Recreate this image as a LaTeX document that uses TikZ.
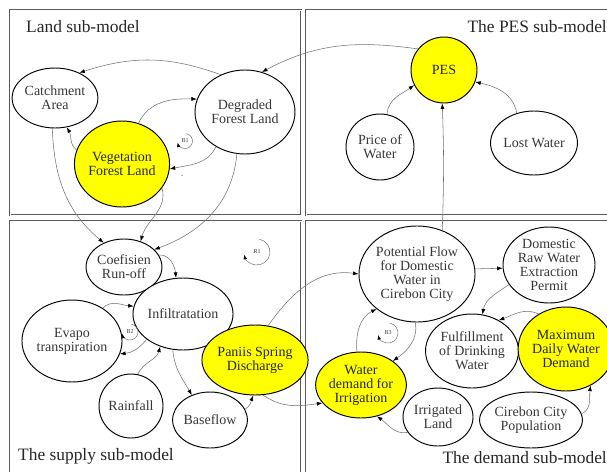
\documentclass[tikz,border=0pt]{standalone}
\usepackage{fontspec}
\setmainfont{Liberation Serif}
\usetikzlibrary{shapes.geometric,arrows.meta}

\definecolor{hilite}{RGB}{255,255,0}
\definecolor{txtgray}{RGB}{55,55,55}
\definecolor{framegray}{RGB}{90,90,90}

\tikzset{
  panel/.style={draw=framegray, line width=0.55pt, double=white, double distance=0.7pt},
  var/.style={ellipse, draw=black, line width=0.95pt, fill=white, inner sep=0pt,
              align=center, text=txtgray, font=\fontsize{14}{14}\selectfont},
  keyvar/.style={var, fill=hilite, text=black!85},
  conn/.style={draw=black!55, line width=0.55pt,
               -{Latex[length=5.5pt,width=4pt,color=black]}},
  looparc/.style={draw=black!55, line width=0.5pt,
               -{Latex[length=4.5pt,width=3.5pt,color=black]}},
  looplabel/.style={font=\fontsize{6}{6}\selectfont, text=txtgray, inner sep=0pt},
  paneltitle/.style={font=\fontsize{17.4}{17.4}\selectfont, text=black!85, inner sep=0pt}
}

% feedback-loop marker: centre, radius, name, label
\newcommand{\fbloop}[4]{%
  \draw[looparc] (#1) ++(80:#2) arc[start angle=80, end angle=-168, radius=#2];
  \node[looplabel] (#3) at (#1) {#4};
}

\begin{document}
\begin{tikzpicture}[x=1pt, y=1pt]
\useasboundingbox (0,0) rectangle (607,-471);
\clip (0,0) rectangle (607,-471);

% sub-model frames
\draw[panel] (10,-10) rectangle (301,-215);
\draw[panel] (306,-10) rectangle (620,-215);
\draw[panel] (10,-221) rectangle (301,-485);
\draw[panel] (306,-221) rectangle (620,-485);

\node[paneltitle, anchor=base west] (tland) at (26,-32) {Land sub-model};
\node[paneltitle, anchor=base east] (tpes) at (607,-32) {The PES sub-model};
\node[paneltitle, anchor=base west] (tsupply) at (18,-460) {The supply sub-model};
\node[paneltitle, anchor=base east] (tdemand) at (607,-463) {The demand sub-model};

% land sub-model
\node[var, minimum width=74pt, minimum height=60pt] (catch) at (55,-98) {Catchment\\Area};
\node[var, minimum width=100pt, minimum height=84pt] (degr) at (245,-112) {Degraded\\Forest Land};
\node[keyvar, minimum width=82pt, minimum height=86pt] (veg) at (122,-164) {Vegetation\\Forest Land};

% PES sub-model
\node[keyvar, minimum width=66pt, minimum height=66pt] (pes) at (444,-70) {PES};
\node[var, minimum width=68pt, minimum height=66pt] (price) at (380,-147) {Price of\\Water};
\node[var, minimum width=78pt, minimum height=64pt] (lost) at (534,-143) {Lost Water};

% supply sub-model
\node[var, minimum width=62pt, minimum height=56pt] (coef) at (124,-267) {Coefisien\\Run-off};
\node[var, minimum width=80pt, minimum height=72pt] (infil) at (183,-314) {Infiltratation};
\node[var, minimum width=84pt, minimum height=82pt] (evapo) at (72,-341) {Evapo\\transpiration};
\node[var, minimum width=64pt, minimum height=64pt] (rain) at (131,-406) {Rainfall};
\node[var, minimum width=68pt, minimum height=56pt] (base) at (210,-420) {Baseflow};
\node[keyvar, minimum width=80pt, minimum height=70pt] (paniis) at (255,-360) {Paniis Spring\\Discharge};

% demand sub-model
\node[var, minimum width=110pt, minimum height=96pt] (potf) at (417,-274) {Potential Flow\\for Domestic\\Water in\\Cirebon City};
\node[var, minimum width=92pt, minimum height=76pt] (perm) at (549,-265) {Domestic\\Raw Water\\Extraction\\Permit};
\node[var, minimum width=84pt, minimum height=74pt] (fulf) at (472,-351) {Fulfillment\\of Drinking\\Water};
\node[keyvar, minimum width=84pt, minimum height=84pt] (maxd) at (566,-349) {Maximum\\Daily Water\\Demand};
\node[keyvar, minimum width=78pt, minimum height=66pt] (wdi) at (361,-385) {Water\\demand for\\Irrigation};
\node[var, minimum width=70pt, minimum height=58pt] (irr) at (438,-417) {Irrigated\\Land};
\node[var, minimum width=82pt, minimum height=56pt] (pop) at (531,-420) {Cirebon City\\Population};

% causal links
\draw[conn] (pes.141) to[out=172, in=28] (degr.67);
\draw[conn] (degr.123) to[out=160, in=18] (catch.46);
\draw[conn] (veg.68) to[out=65, in=178] (degr.165);
\draw[conn] (degr.230) to[out=245, in=12] (veg.354);
\draw[conn] (veg.163) to[out=140, in=-60] (catch.292);
\draw[conn] (catch.265) to[out=-88, in=140] (coef.130);
\draw[conn] (veg.-31) to[out=-75, in=75] (coef.57);
\draw[conn] (degr.259) to[out=-95, in=20] (coef.30);
\draw[conn] (coef.19) to[out=5, in=95] (infil.101);
\draw[conn] (evapo.47) to[out=45, in=175] (infil.171);
\draw[conn] (infil.215) to[out=230, in=5] (evapo.-15);
\draw[conn] (rain.78) to[out=65, in=255] (infil.235);
\draw[conn] (infil.254) to[out=-85, in=120] (base.126);
\draw[conn] (base.17) to[out=30, in=250] (paniis.267);
\draw[conn] (paniis.69) to[out=55, in=172] (potf.180);
\draw[conn] (paniis.283) to[out=-35, in=188] (wdi.205);
\draw[conn] (potf.60) to[out=88, in=272] (pes.267);
\draw[conn] (price.78) to[out=85, in=215] (pes.207);
\draw[conn] (lost.120) to[out=100, in=-12] (pes.-21);
\draw[conn] (potf.5) -- (perm.184);
\draw[conn] (perm.206) to[out=215, in=80] (fulf.74);
\draw[conn] (maxd.128) to[out=155, in=20] (fulf.49);
\draw[conn] (pop.7) to[out=25, in=262] (maxd.304);
\draw[conn] (irr.207) to[out=190, in=-35] (wdi.297);
\draw[conn] (potf.268) to[out=-80, in=35] (wdi.37);
\draw[conn] (wdi.97) to[out=95, in=205] (potf.221);

% polarity mark
\node[looplabel] (sgn) at (182,-177) {-};

% feedback loops
\fbloop{185,-141}{7.5pt}{lb1}{B1}
\fbloop{257,-252}{13pt}{lr1}{R1}
\fbloop{130,-332}{8pt}{lb2}{B2}
\fbloop{388,-333}{10pt}{lb3}{B3}

\end{tikzpicture}
\end{document}
